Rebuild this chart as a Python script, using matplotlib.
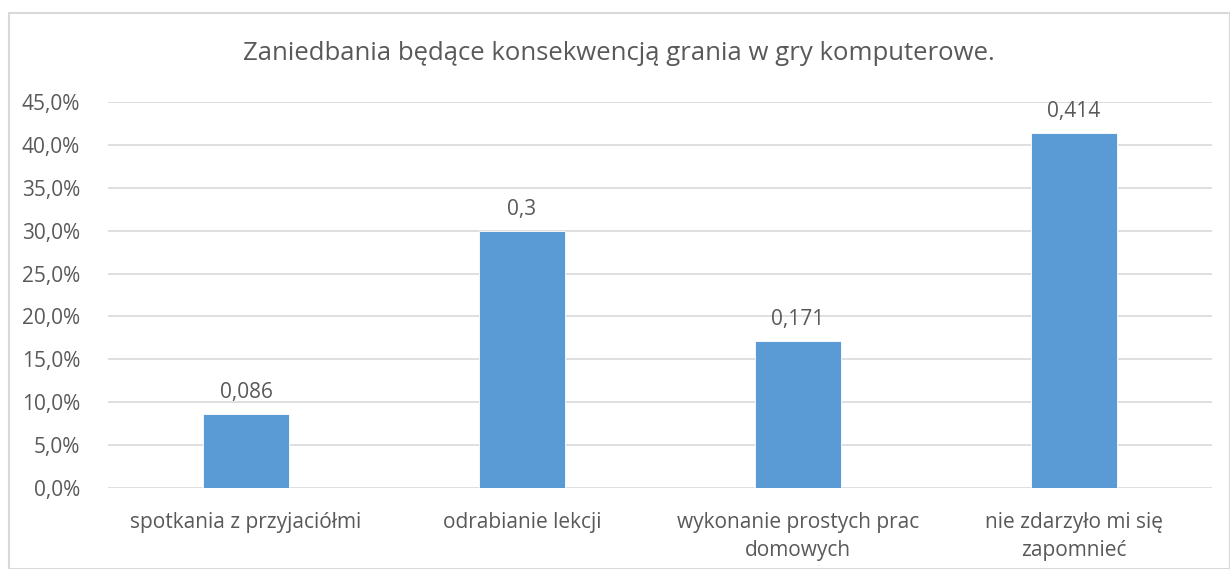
import matplotlib.pyplot as plt
from matplotlib.patches import Rectangle
from matplotlib.ticker import FuncFormatter

categories = ["spotkania z przyjaciółmi", "odrabianie lekcji",
              "wykonanie prostych prac\ndomowych", "nie zdarzyło mi się\nzapomnieć"]
values = [0.086, 0.3, 0.171, 0.414]
value_labels = ["0,086", "0,3", "0,171", "0,414"]
title = "Zaniedbania będące konsekwencją grania w gry komputerowe."

text_color = "#595959"
bar_color = "#5B9BD5"
grid_color = "#D9D9D9"

plt.rcParams["font.family"] = ["Open Sans", "DejaVu Sans"]

fig = plt.figure(figsize=(12.3, 5.69), dpi=100)
ax = fig.add_axes([108 / 1230, 1 - 488 / 569, (1212 - 108) / 1230, (488 - 102) / 569])

x = range(len(categories))
ax.bar(x, values, width=0.31, color=bar_color, edgecolor="white", linewidth=0.6, zorder=3)

for xi, v, lab in zip(x, values, value_labels):
    ax.text(xi, v + 0.013, lab, ha="center", va="bottom", fontsize=15, color=text_color)

ax.set_xlim(-0.5, len(categories) - 0.5)
ax.set_ylim(0, 0.45)
ax.set_yticks([i * 0.05 for i in range(10)])
ax.yaxis.set_major_formatter(FuncFormatter(lambda v, p: f"{v * 100:.1f}%".replace(".", ",")))
ax.set_xticks(list(x))
ax.set_xticklabels(categories, fontsize=15, color=text_color, linespacing=1.45)
ax.tick_params(axis="y", labelsize=15, labelcolor=text_color, length=0, pad=20)
ax.tick_params(axis="x", length=0, pad=17)
ax.grid(axis="y", color=grid_color, linewidth=1.2, zorder=0)
for s in ax.spines.values():
    s.set_visible(False)

fig.text(0.5 * (1 + 8 / 1230), 1 - 53 / 569, title, ha="center", va="center",
         fontsize=18.5, color=text_color)

fig.patches.append(Rectangle((9 / 1230, 0), 1 - 9 / 1230, 1 - 13 / 569,
                             transform=fig.transFigure, fill=False,
                             edgecolor=grid_color, linewidth=1.5))

fig.savefig("out.png", dpi=100)
